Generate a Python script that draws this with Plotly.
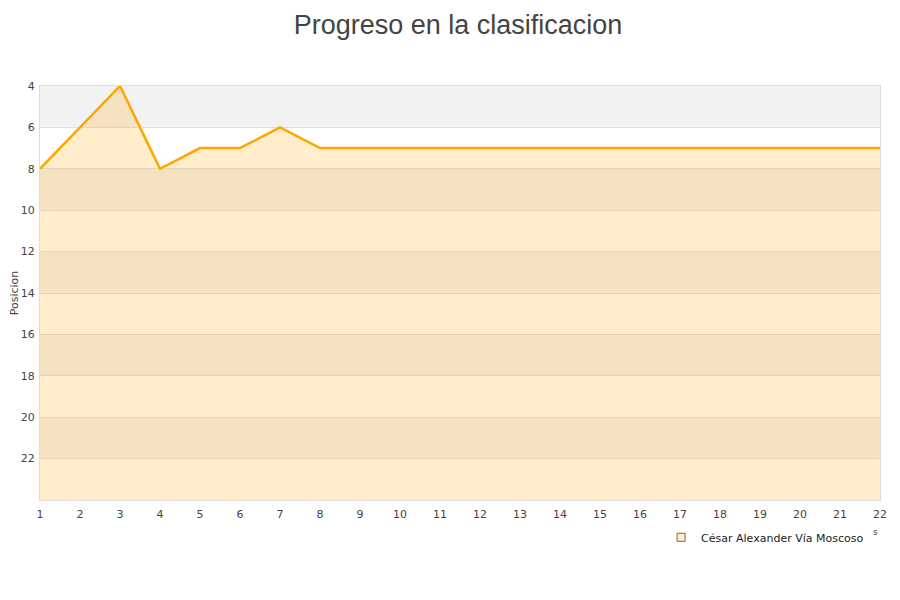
import plotly.graph_objects as go

# Jornadas y posiciones
jornadas = list(range(1, 23))
posiciones = [8, 6, 4, 8, 7, 7, 6, 7, 7, 7, 7, 7, 7, 7, 7, 7, 7, 7, 7, 7, 7, 7]
fondo = [24] * len(jornadas)
y_ticks = [4, 6, 8, 10, 12, 14, 16, 18, 20, 22]
jugador = 'César Alexander Vía Moscoso'

fig = go.Figure()

# banda alterna gris
for y0 in range(4, 24, 4):
    fig.add_shape(type='rect', xref='x', yref='y', x0=1, x1=22, y0=y0, y1=y0 + 2,
                  fillcolor='#f2f2f2', line_width=0, layer='below')

fig.add_trace(go.Scatter(x=jornadas, y=fondo, mode='lines', line=dict(width=0),
                         showlegend=False, hoverinfo='skip'))
fig.add_trace(go.Scatter(
    x=jornadas, y=posiciones, name=jugador, mode='lines',
    line=dict(color='#ffa500', width=2.5), showlegend=False,
    fill='tonexty', fillcolor='rgba(255,165,0,0.2)'
))
# entrada de leyenda con cuadrado
fig.add_trace(go.Scatter(
    x=[None], y=[None], name=jugador, mode='markers',
    marker=dict(symbol='square', size=8, color='#ffedcc',
                line=dict(color='#7a6a50', width=1))
))

# la pagina tiene 8px de margen en el body, se compensa aqui
fig.update_layout(
    width=900, height=600,
    paper_bgcolor='white', plot_bgcolor='rgba(0,0,0,0)',
    title=dict(text='Progreso en la clasificacion', x=0.5, y=0.988, xanchor='center',
               yanchor='top',
               font=dict(family='Liberation Sans, Arial', size=27, color='#444444')),
    margin=dict(l=32, r=28, t=78, b=108),
    font=dict(family='DejaVu Sans', size=11, color='#444444'),
    showlegend=True,
    legend=dict(x=0.987, y=-0.055, xanchor='right', yanchor='top', bgcolor='rgba(0,0,0,0)',
                font=dict(size=11, color='#222222'), itemwidth=30),
)
fig.update_xaxes(range=[1, 22], tickvals=jornadas, showgrid=False, zeroline=False,
                 showline=True, linecolor='#dddddd', mirror=True, ticks='',
                 ticklabelstandoff=4,
                 automargin=False, tickfont=dict(size=11, color='#444444'))
fig.update_yaxes(range=[24, 4], tickvals=y_ticks, showgrid=True, gridcolor='#e0e0e0',
                 zeroline=False, showline=True, linecolor='#dddddd', mirror=True,
                 ticks='', automargin=False, ticklabelstandoff=2,
                 title=dict(text='Posicion', font=dict(size=11)),
                 tickfont=dict(size=11, color='#444444'))
fig.add_annotation(text='s', x=1.0, y=-0.093, xref='paper', yref='paper',
                   showarrow=False, font=dict(size=9, color='#444444'))

fig.write_html('out.html')
